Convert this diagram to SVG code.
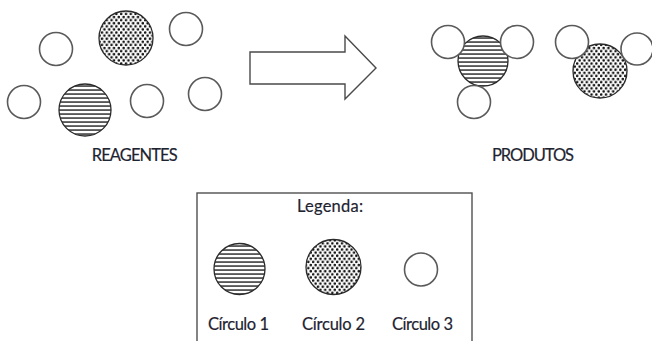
<svg xmlns="http://www.w3.org/2000/svg" width="652" height="341" viewBox="0 0 652 341">
  <style>
    .s { fill: #ffffff; stroke: #5a5a5a; stroke-width: 1.6; }
    .h { fill: url(#hatch); stroke: #2a2a2a; stroke-width: 1.3; }
    .d { fill: url(#dots); stroke: #2a2a2a; stroke-width: 1.3; }
    .t { font-family: Lato, "Liberation Sans", sans-serif; font-size: 16.5px; fill: #1e2330; stroke: #1e2330; stroke-width: 0.18; text-anchor: middle; }
  </style>
  <defs>
    <pattern id="hatch" patternUnits="userSpaceOnUse" width="8" height="4">
      <rect width="8" height="4" fill="#ffffff"/>
      <rect y="1.4" width="8" height="1.3" fill="#111111"/>
    </pattern>
    <pattern id="dots" patternUnits="userSpaceOnUse" width="4.8" height="6.2">
      <rect width="4.8" height="6.2" fill="#ffffff"/>
      <circle cx="1.2" cy="1.55" r="1.3" fill="#111111"/>
      <circle cx="3.6" cy="4.65" r="1.3" fill="#111111"/>
    </pattern>
  </defs>
  <rect width="652" height="341" fill="#ffffff"/>

  <g id="reagentes">
    <circle class="s" cx="56" cy="49" r="16.5"/>
    <circle class="d" cx="126" cy="38" r="27"/>
    <circle class="s" cx="186" cy="29" r="16.5"/>
    <circle class="s" cx="24" cy="102" r="16.5"/>
    <circle class="h" cx="85" cy="110" r="26"/>
    <circle class="s" cx="147" cy="101" r="16.5"/>
    <circle class="s" cx="205" cy="94" r="16.5"/>
    <text class="t" x="134.7" y="161" textLength="86">REAGENTES</text>
  </g>

  <g id="seta">
    <polygon points="250,52 345,52 345,36 376,68 345,99 345,84 250,84" fill="#ffffff" stroke="#4a4a4a" stroke-width="1.4" stroke-linejoin="miter"/>
  </g>

  <g id="produtos">
    <circle class="h" cx="483" cy="61" r="25"/>
    <circle class="s" cx="448" cy="42" r="16.5"/>
    <circle class="s" cx="517" cy="42" r="16.5"/>
    <circle class="s" cx="474" cy="102" r="16.5"/>
    <circle class="d" cx="600" cy="71" r="27"/>
    <circle class="s" cx="572" cy="42" r="16.5"/>
    <circle class="s" cx="637" cy="49" r="16"/>
    <text class="t" x="533" y="161" textLength="82">PRODUTOS</text>
  </g>

  <g id="legenda">
    <rect x="197" y="193" width="275" height="160" fill="none" stroke="#505050" stroke-width="1.4"/>
    <text class="t" x="330" y="212" textLength="66">Legenda:</text>
    <circle class="h" cx="239.5" cy="269" r="25.5"/>
    <circle class="d" cx="333.5" cy="267" r="27.5"/>
    <circle class="s" cx="421" cy="269.5" r="16.5"/>
    <text class="t" x="238.5" y="330" textLength="61">Círculo 1</text>
    <text class="t" x="333.5" y="330" textLength="63">Círculo 2</text>
    <text class="t" x="422.5" y="330" textLength="61">Círculo 3</text>
  </g>
</svg>
